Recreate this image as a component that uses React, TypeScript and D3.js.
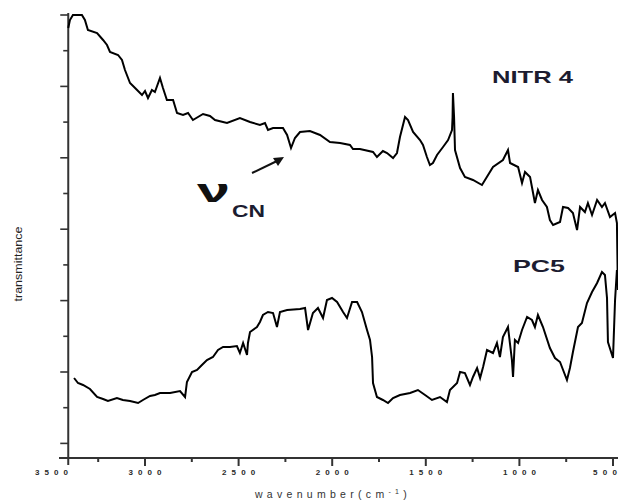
import React from 'react';
import * as d3 from 'd3';

const WIDTH = 618;
const HEIGHT = 500;

// [wavenumber (cm^-1), transmittance (a.u.)]
const nitr4Spectrum: [number, number][] = [
  [3410, 430], [3401, 438], [3385, 443], [3337, 443], [3321, 438], [3305, 428], [3256, 425],
  [3224, 418], [3203, 413], [3187, 406], [3144, 403], [3123, 398], [3107, 388], [3080, 375],
  [3053, 370], [3016, 363], [3000, 367], [2984, 360], [2963, 368], [2947, 366], [2920, 380],
  [2904, 370], [2883, 358], [2850, 358], [2829, 345], [2797, 343], [2770, 345], [2744, 338],
  [2690, 344], [2653, 342], [2626, 338], [2562, 335], [2493, 340], [2439, 336], [2386, 333],
  [2359, 335], [2343, 328], [2316, 330], [2263, 330], [2241, 323], [2220, 310], [2199, 320],
  [2172, 326], [2119, 327], [2065, 323], [2012, 316], [1958, 315], [1905, 313], [1889, 309],
  [1852, 309], [1782, 306], [1761, 301], [1729, 307], [1707, 305], [1675, 300], [1654, 305],
  [1638, 321], [1611, 341], [1595, 338], [1568, 326], [1531, 318], [1515, 313], [1494, 301],
  [1478, 293], [1462, 295], [1440, 303], [1408, 311], [1381, 318], [1360, 328], [1357, 341],
  [1355, 365], [1349, 341], [1344, 308], [1317, 290], [1291, 281], [1248, 278], [1200, 273],
  [1141, 291], [1088, 298], [1061, 308], [1050, 295], [1007, 291], [986, 275], [970, 286],
  [943, 281], [933, 271], [917, 255], [901, 268], [879, 258], [853, 251], [837, 238],
  [820, 233], [783, 236], [767, 251], [740, 250], [714, 245], [692, 228], [676, 251],
  [650, 246], [634, 255], [612, 243], [585, 258], [559, 251], [543, 255], [516, 241],
  [489, 245], [479, 235], [474, 168],
];

const pc5Spectrum: [number, number][] = [
  [3379, 80], [3358, 75], [3331, 73], [3294, 69], [3256, 61], [3224, 59], [3198, 57],
  [3150, 60], [3118, 58], [3080, 57], [3037, 55], [3011, 58], [2973, 62], [2947, 63],
  [2920, 65], [2866, 65], [2813, 67], [2786, 61], [2776, 76], [2749, 86], [2722, 88],
  [2696, 93], [2669, 98], [2637, 101], [2610, 108], [2583, 111], [2546, 111], [2509, 112],
  [2493, 105], [2476, 115], [2455, 103], [2450, 115], [2439, 126], [2402, 131], [2386, 136],
  [2370, 143], [2343, 146], [2316, 145], [2295, 131], [2279, 146], [2241, 148], [2172, 149],
  [2145, 150], [2129, 128], [2103, 145], [2076, 150], [2049, 140], [2028, 158], [2001, 160],
  [1974, 156], [1942, 146], [1921, 140], [1894, 156], [1867, 156], [1841, 146], [1814, 128],
  [1798, 118], [1787, 101], [1782, 75], [1761, 61], [1729, 58], [1702, 55], [1675, 60],
  [1638, 63], [1584, 65], [1542, 68], [1504, 63], [1467, 58], [1424, 61], [1387, 56],
  [1371, 68], [1333, 75], [1317, 86], [1291, 85], [1264, 73], [1248, 81], [1226, 90],
  [1210, 80], [1194, 91], [1173, 108], [1141, 105], [1120, 115], [1104, 101], [1088, 121],
  [1061, 131], [1040, 98], [1034, 81], [1024, 118], [1007, 115], [986, 128], [959, 141],
  [933, 138], [917, 131], [901, 143], [874, 131], [837, 110], [810, 100], [783, 96],
  [746, 78], [730, 90], [714, 106], [687, 131], [666, 135], [639, 155], [612, 166],
  [585, 175], [559, 186], [543, 183], [532, 160], [527, 116], [500, 100], [489, 158],
  [479, 188],
];

const xMajorTicks = [3500, 3000, 2500, 2000, 1500, 1000, 500];
const xMinorTicks = [3250, 2750, 2250, 1750, 1250, 750];
const seriesLabels = ['NITR 4', 'PC5'];
const xTitle = 'wavenumber(cm';
const yTitle = 'transmittance';

const FONT = 'Liberation Sans, Arial, sans-serif';

export default function App() {
  const x = d3.scaleLinear().domain([3500, 500]).range([51.4, 613]);
  const y = d3.scaleLinear().domain([0, 443]).range([458, 15]);

  const line = d3
    .line<[number, number]>()
    .x((d) => x(d[0]))
    .y((d) => y(d[1]));

  // y ticks every 35.7 a.u., long ones on alternating positions
  const yTicks = d3.range(13).map((k) => ({ v: 14.6 + 35.7 * k, major: k % 2 === 0 }));

  const axisX = x(3410);
  const baseY = y(0);

  return (
    <svg
      width={WIDTH}
      height={HEIGHT}
      style={{ position: 'absolute', left: 0, top: 0, background: '#fff' }}
      fontFamily={FONT}
    >
      {/* axes */}
      <line x1={59} x2={WIDTH} y1={baseY} y2={baseY} stroke="#333" strokeWidth={2} />
      <line x1={axisX} x2={axisX} y1={13} y2={465} stroke="#333" strokeWidth={2} />

      {yTicks.map((t, i) => (
        <line
          key={`yt${i}`}
          x1={axisX}
          x2={axisX - (t.major ? 8 : 5)}
          y1={y(t.v)}
          y2={y(t.v)}
          stroke="#333"
          strokeWidth={1.6}
        />
      ))}

      {xMajorTicks
        .filter((v) => v < 3500)
        .map((v) => (
          <line key={`xM${v}`} x1={x(v)} x2={x(v)} y1={baseY} y2={baseY + 8} stroke="#333" strokeWidth={2} />
        ))}
      {xMinorTicks.map((v) => (
        <line key={`xm${v}`} x1={x(v)} x2={x(v)} y1={baseY} y2={baseY + 4} stroke="#333" strokeWidth={2} />
      ))}
      {xMajorTicks.map((v) => {
        const last = v === 500;
        return (
          <text
            key={`xl${v}`}
            x={last ? WIDTH - 1 : x(v)}
            y={475}
            textAnchor={last ? 'end' : 'middle'}
            fontSize={8}
            fontWeight="bold"
            fill="#2a2a2a"
            textLength={v >= 1000 ? 33 : 24}
            lengthAdjust="spacing"
          >
            {v}
          </text>
        );
      })}

      <text x={333} y={498} textAnchor="middle" fontSize={10.5} fill="#333" letterSpacing={4.3}>
        {xTitle}
        <tspan dy={-4} fontSize={7}>-1</tspan>
        <tspan dy={4}>)</tspan>
      </text>

      <text
        transform="translate(22,264) rotate(-90)"
        textAnchor="middle"
        fontSize={11}
        fill="#222"
        textLength={75}
        lengthAdjust="spacingAndGlyphs"
      >
        {yTitle}
      </text>

      {/* spectra */}
      <path d={line(nitr4Spectrum) ?? ''} fill="none" stroke="#000" strokeWidth={2} strokeLinejoin="miter" />
      <path d={line(pc5Spectrum) ?? ''} fill="none" stroke="#000" strokeWidth={2} strokeLinejoin="miter" />

      {/* series labels */}
      <text x={492} y={83} fontSize={17} fontWeight="bold" fill="#1c1c30" textLength={81} lengthAdjust="spacingAndGlyphs">
        {seriesLabels[0]}
      </text>
      <text x={513} y={272} fontSize={17} fontWeight="bold" fill="#1c1c30" textLength={52} lengthAdjust="spacingAndGlyphs">
        {seriesLabels[1]}
      </text>

      {/* nu(CN) annotation */}
      <text x={197} y={202} fontSize={34} fontWeight="bold" fill="#111" textLength={33} lengthAdjust="spacingAndGlyphs">
        ν
      </text>
      <text x={232} y={217} fontSize={16} fontWeight="bold" fill="#1c1c30" textLength={33} lengthAdjust="spacingAndGlyphs">
        CN
      </text>
      <line x1={252} y1={173} x2={277} y2={161} stroke="#111" strokeWidth={2} />
      <path d="M284,157 L273,158 L278,166 Z" fill="#111" />
    </svg>
  );
}
